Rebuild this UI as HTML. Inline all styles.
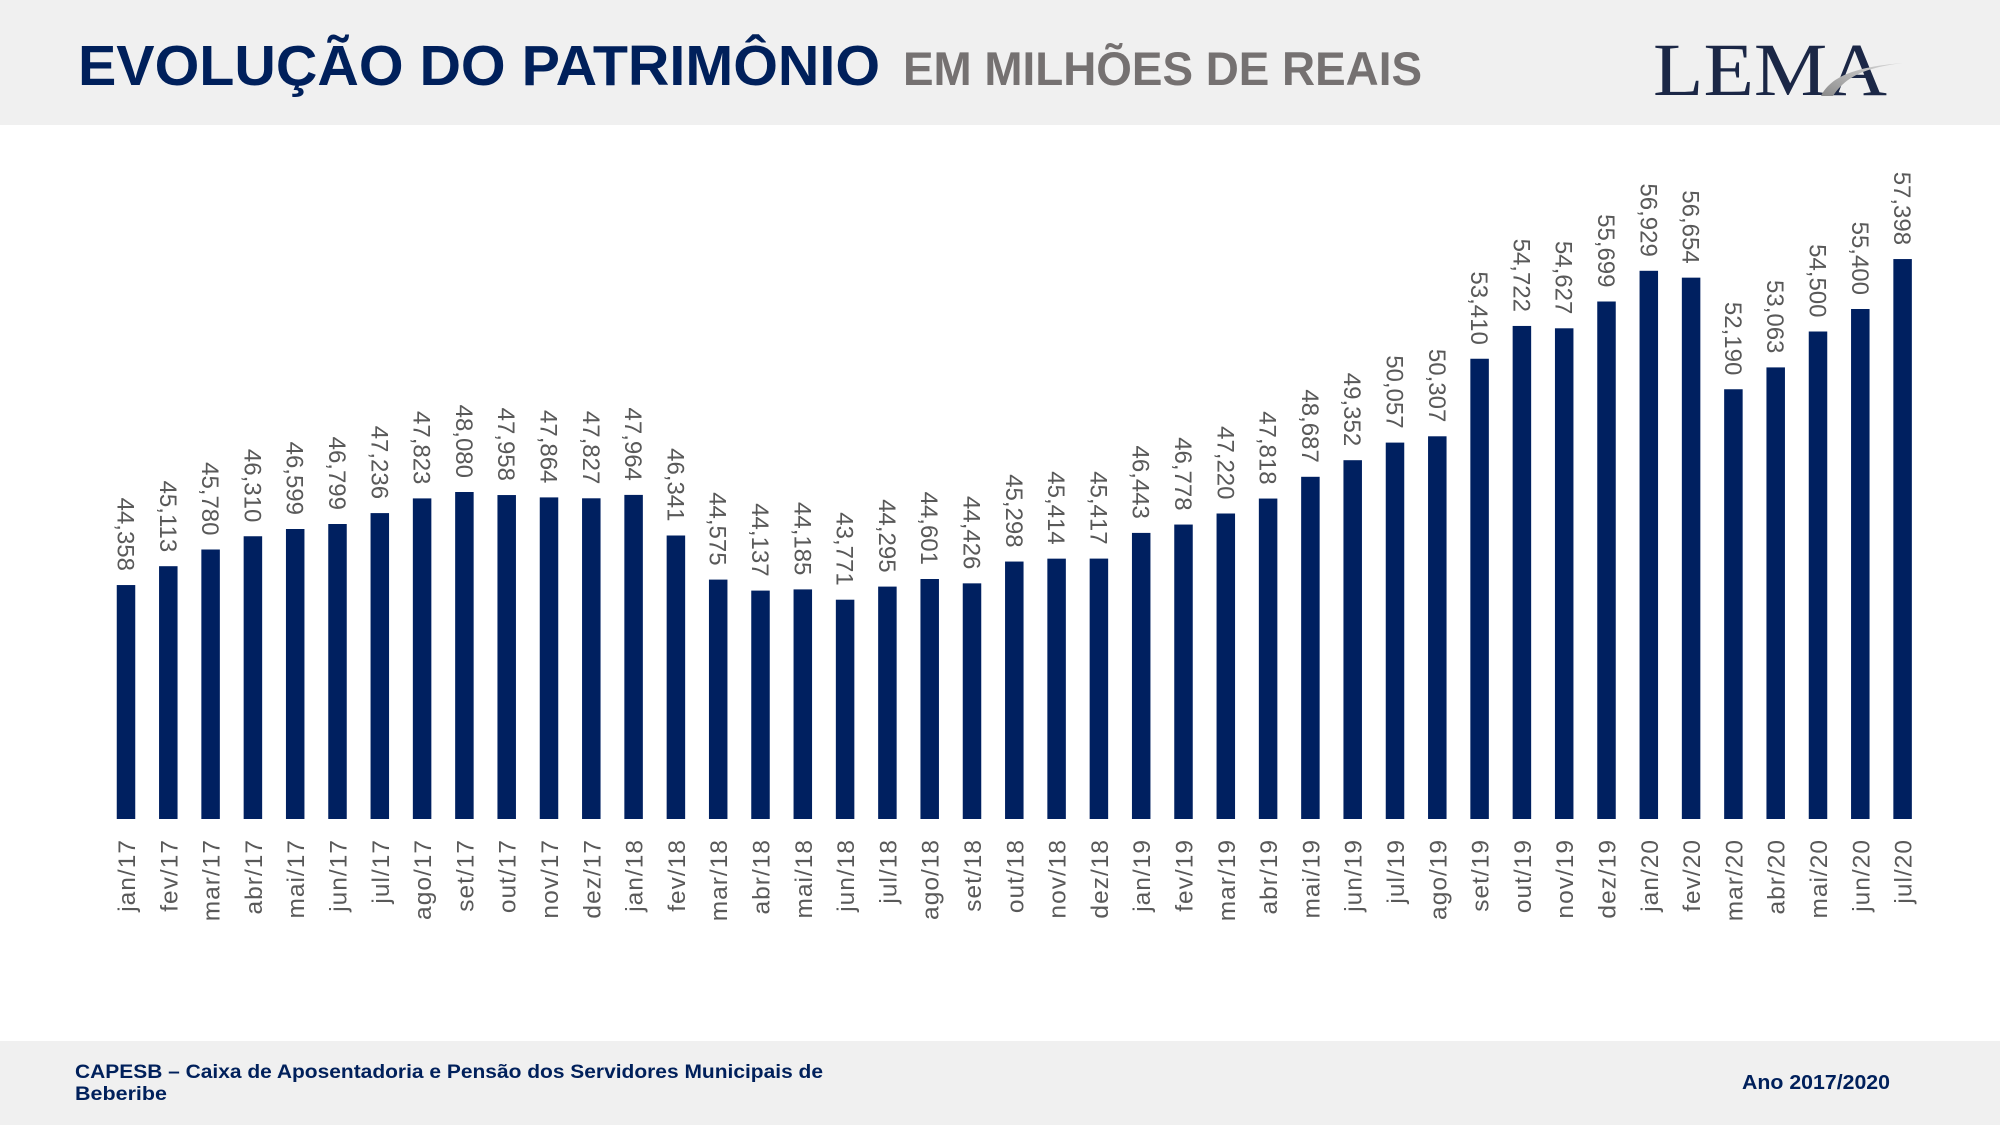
<!DOCTYPE html>
<html>
<head>
<meta charset="utf-8">
<style>
  html, body { margin: 0; padding: 0; background: #ffffff; }
  svg { display: block; }
  .dl { font-family: "Liberation Sans", sans-serif; font-size: 24px; fill: #595959; }
  .al { font-family: "Liberation Sans", sans-serif; font-size: 24.5px; fill: #595959; letter-spacing: 1px; }
</style>
</head>
<body>
<svg width="2000" height="1125" viewBox="0 0 2000 1125" xmlns="http://www.w3.org/2000/svg">
  <rect x="0" y="0" width="2000" height="1125" fill="#ffffff"/>
  <!-- header -->
  <rect x="0" y="0" width="2000" height="125" fill="#f0f0f0"/>
  <text x="78" y="85" font-family="Liberation Sans, sans-serif" font-weight="bold" font-size="57" fill="#00205b" textLength="802" lengthAdjust="spacingAndGlyphs">EVOLUÇÃO DO PATRIMÔNIO</text>
  <text x="903" y="85" font-family="Liberation Sans, sans-serif" font-weight="bold" font-size="47" fill="#757171" textLength="519" lengthAdjust="spacingAndGlyphs">EM MILHÕES DE REAIS</text>
  <!-- logo -->
  <text x="1653" y="95" font-family="Liberation Serif, serif" font-size="75" fill="#1b2746" textLength="234" lengthAdjust="spacingAndGlyphs">LEMA</text>
  <defs>
    <linearGradient id="sw" x1="0" y1="1" x2="1" y2="0">
      <stop offset="0" stop-color="#8a8a8a"/>
      <stop offset="0.5" stop-color="#b5b5b5"/>
      <stop offset="1" stop-color="#d8d8d8"/>
    </linearGradient>
  </defs>
  <path d="M1821,96 C1830,78 1852,67 1903,63 C1862,68 1845,78 1833,96 Z" fill="url(#sw)"/>

  <!-- footer -->
  <rect x="0" y="1041" width="2000" height="84" fill="#f0f0f0"/>
  <text x="75" y="1078" font-family="Liberation Sans, sans-serif" font-weight="bold" font-size="19" fill="#00205b" textLength="748" lengthAdjust="spacingAndGlyphs">CAPESB – Caixa de Aposentadoria e Pensão dos Servidores Municipais de</text>
  <text x="75" y="1100" font-family="Liberation Sans, sans-serif" font-weight="bold" font-size="19" fill="#00205b" textLength="92" lengthAdjust="spacingAndGlyphs">Beberibe</text>
  <text x="1742" y="1089" font-family="Liberation Sans, sans-serif" font-weight="bold" font-size="20" fill="#00205b" textLength="148" lengthAdjust="spacingAndGlyphs">Ano 2017/2020</text>

  <!-- bars -->
  <g fill="#002060">
    <rect x="116.75" y="585.05" width="18.5" height="233.95"/>
    <rect x="159.05" y="566.2" width="18.5" height="252.8"/>
    <rect x="201.35" y="549.5" width="18.5" height="269.5"/>
    <rect x="243.65" y="536.25" width="18.5" height="282.75"/>
    <rect x="285.95" y="529.0" width="18.5" height="290.0"/>
    <rect x="328.25" y="524.0" width="18.5" height="295.0"/>
    <rect x="370.55" y="513.1" width="18.5" height="305.9"/>
    <rect x="412.85" y="498.4" width="18.5" height="320.6"/>
    <rect x="455.15" y="492.0" width="18.5" height="327.0"/>
    <rect x="497.45" y="495.05" width="18.5" height="323.95"/>
    <rect x="539.75" y="497.4" width="18.5" height="321.6"/>
    <rect x="582.05" y="498.3" width="18.5" height="320.7"/>
    <rect x="624.35" y="494.9" width="18.5" height="324.1"/>
    <rect x="666.65" y="535.5" width="18.5" height="283.5"/>
    <rect x="708.95" y="579.6" width="18.5" height="239.4"/>
    <rect x="751.25" y="590.6" width="18.5" height="228.4"/>
    <rect x="793.55" y="589.4" width="18.5" height="229.6"/>
    <rect x="835.85" y="599.7" width="18.5" height="219.3"/>
    <rect x="878.15" y="586.6" width="18.5" height="232.4"/>
    <rect x="920.45" y="579.0" width="18.5" height="240.0"/>
    <rect x="962.75" y="583.35" width="18.5" height="235.65"/>
    <rect x="1005.05" y="561.55" width="18.5" height="257.45"/>
    <rect x="1047.35" y="558.65" width="18.5" height="260.35"/>
    <rect x="1089.65" y="558.6" width="18.5" height="260.4"/>
    <rect x="1131.95" y="532.9" width="18.5" height="286.1"/>
    <rect x="1174.25" y="524.55" width="18.5" height="294.45"/>
    <rect x="1216.55" y="513.5" width="18.5" height="305.5"/>
    <rect x="1258.85" y="498.55" width="18.5" height="320.45"/>
    <rect x="1301.15" y="476.8" width="18.5" height="342.2"/>
    <rect x="1343.45" y="460.2" width="18.5" height="358.8"/>
    <rect x="1385.75" y="442.6" width="18.5" height="376.4"/>
    <rect x="1428.05" y="436.3" width="18.5" height="382.7"/>
    <rect x="1470.35" y="358.75" width="18.5" height="460.25"/>
    <rect x="1512.65" y="325.95" width="18.5" height="493.05"/>
    <rect x="1554.95" y="328.3" width="18.5" height="490.7"/>
    <rect x="1597.25" y="301.5" width="18.5" height="517.5"/>
    <rect x="1639.55" y="270.8" width="18.5" height="548.2"/>
    <rect x="1681.85" y="277.65" width="18.5" height="541.35"/>
    <rect x="1724.15" y="389.25" width="18.5" height="429.75"/>
    <rect x="1766.45" y="367.4" width="18.5" height="451.6"/>
    <rect x="1808.75" y="331.5" width="18.5" height="487.5"/>
    <rect x="1851.05" y="309.0" width="18.5" height="510.0"/>
    <rect x="1893.35" y="259.05" width="18.5" height="559.95"/>
  </g>

  <!-- data labels (rotated 90, reading downward) -->
  <g class="dl" text-anchor="end">
    <text transform="translate(117.5,571) rotate(90)">44,358</text>
    <text transform="translate(159.8,552.2) rotate(90)">45,113</text>
    <text transform="translate(202.1,535.5) rotate(90)">45,780</text>
    <text transform="translate(244.4,522.3) rotate(90)">46,310</text>
    <text transform="translate(286.7,515) rotate(90)">46,599</text>
    <text transform="translate(329,510) rotate(90)">46,799</text>
    <text transform="translate(371.3,499.1) rotate(90)">47,236</text>
    <text transform="translate(413.6,484.4) rotate(90)">47,823</text>
    <text transform="translate(455.9,478) rotate(90)">48,080</text>
    <text transform="translate(498.2,481) rotate(90)">47,958</text>
    <text transform="translate(540.5,483.4) rotate(90)">47,864</text>
    <text transform="translate(582.8,484.3) rotate(90)">47,827</text>
    <text transform="translate(625.1,480.9) rotate(90)">47,964</text>
    <text transform="translate(667.4,521.5) rotate(90)">46,341</text>
    <text transform="translate(709.7,565.6) rotate(90)">44,575</text>
    <text transform="translate(752,576.6) rotate(90)">44,137</text>
    <text transform="translate(794.3,575.4) rotate(90)">44,185</text>
    <text transform="translate(836.6,585.7) rotate(90)">43,771</text>
    <text transform="translate(878.9,572.6) rotate(90)">44,295</text>
    <text transform="translate(921.2,565) rotate(90)">44,601</text>
    <text transform="translate(963.5,569.4) rotate(90)">44,426</text>
    <text transform="translate(1005.8,547.6) rotate(90)">45,298</text>
    <text transform="translate(1048.1,544.7) rotate(90)">45,414</text>
    <text transform="translate(1090.4,544.6) rotate(90)">45,417</text>
    <text transform="translate(1132.7,518.9) rotate(90)">46,443</text>
    <text transform="translate(1175,510.6) rotate(90)">46,778</text>
    <text transform="translate(1217.3,499.5) rotate(90)">47,220</text>
    <text transform="translate(1259.6,484.6) rotate(90)">47,818</text>
    <text transform="translate(1301.9,462.8) rotate(90)">48,687</text>
    <text transform="translate(1344.2,446.2) rotate(90)">49,352</text>
    <text transform="translate(1386.5,428.6) rotate(90)">50,057</text>
    <text transform="translate(1428.8,422.3) rotate(90)">50,307</text>
    <text transform="translate(1471.1,344.8) rotate(90)">53,410</text>
    <text transform="translate(1513.4,312) rotate(90)">54,722</text>
    <text transform="translate(1555.7,314.3) rotate(90)">54,627</text>
    <text transform="translate(1598,287.5) rotate(90)">55,699</text>
    <text transform="translate(1640.3,256.8) rotate(90)">56,929</text>
    <text transform="translate(1682.6,263.7) rotate(90)">56,654</text>
    <text transform="translate(1724.9,375.3) rotate(90)">52,190</text>
    <text transform="translate(1767.2,353.4) rotate(90)">53,063</text>
    <text transform="translate(1809.5,317.5) rotate(90)">54,500</text>
    <text transform="translate(1851.8,295) rotate(90)">55,400</text>
    <text transform="translate(1894.1,245.1) rotate(90)">57,398</text>
  </g>

  <!-- axis labels (rotated -90, reading upward) -->
  <g class="al" text-anchor="end">
    <text transform="translate(135,839) rotate(-90)">jan/17</text>
    <text transform="translate(177.3,839) rotate(-90)">fev/17</text>
    <text transform="translate(219.6,839) rotate(-90)">mar/17</text>
    <text transform="translate(261.9,839) rotate(-90)">abr/17</text>
    <text transform="translate(304.2,839) rotate(-90)">mai/17</text>
    <text transform="translate(346.5,839) rotate(-90)">jun/17</text>
    <text transform="translate(388.8,839) rotate(-90)">jul/17</text>
    <text transform="translate(431.1,839) rotate(-90)">ago/17</text>
    <text transform="translate(473.4,839) rotate(-90)">set/17</text>
    <text transform="translate(515.7,839) rotate(-90)">out/17</text>
    <text transform="translate(558,839) rotate(-90)">nov/17</text>
    <text transform="translate(600.3,839) rotate(-90)">dez/17</text>
    <text transform="translate(642.6,839) rotate(-90)">jan/18</text>
    <text transform="translate(684.9,839) rotate(-90)">fev/18</text>
    <text transform="translate(727.2,839) rotate(-90)">mar/18</text>
    <text transform="translate(769.5,839) rotate(-90)">abr/18</text>
    <text transform="translate(811.8,839) rotate(-90)">mai/18</text>
    <text transform="translate(854.1,839) rotate(-90)">jun/18</text>
    <text transform="translate(896.4,839) rotate(-90)">jul/18</text>
    <text transform="translate(938.7,839) rotate(-90)">ago/18</text>
    <text transform="translate(981,839) rotate(-90)">set/18</text>
    <text transform="translate(1023.3,839) rotate(-90)">out/18</text>
    <text transform="translate(1065.6,839) rotate(-90)">nov/18</text>
    <text transform="translate(1107.9,839) rotate(-90)">dez/18</text>
    <text transform="translate(1150.2,839) rotate(-90)">jan/19</text>
    <text transform="translate(1192.5,839) rotate(-90)">fev/19</text>
    <text transform="translate(1234.8,839) rotate(-90)">mar/19</text>
    <text transform="translate(1277.1,839) rotate(-90)">abr/19</text>
    <text transform="translate(1319.4,839) rotate(-90)">mai/19</text>
    <text transform="translate(1361.7,839) rotate(-90)">jun/19</text>
    <text transform="translate(1404,839) rotate(-90)">jul/19</text>
    <text transform="translate(1446.3,839) rotate(-90)">ago/19</text>
    <text transform="translate(1488.6,839) rotate(-90)">set/19</text>
    <text transform="translate(1530.9,839) rotate(-90)">out/19</text>
    <text transform="translate(1573.2,839) rotate(-90)">nov/19</text>
    <text transform="translate(1615.5,839) rotate(-90)">dez/19</text>
    <text transform="translate(1657.8,839) rotate(-90)">jan/20</text>
    <text transform="translate(1700.1,839) rotate(-90)">fev/20</text>
    <text transform="translate(1742.4,839) rotate(-90)">mar/20</text>
    <text transform="translate(1784.7,839) rotate(-90)">abr/20</text>
    <text transform="translate(1827,839) rotate(-90)">mai/20</text>
    <text transform="translate(1869.3,839) rotate(-90)">jun/20</text>
    <text transform="translate(1911.6,839) rotate(-90)">jul/20</text>
  </g>
</svg>
</body>
</html>
